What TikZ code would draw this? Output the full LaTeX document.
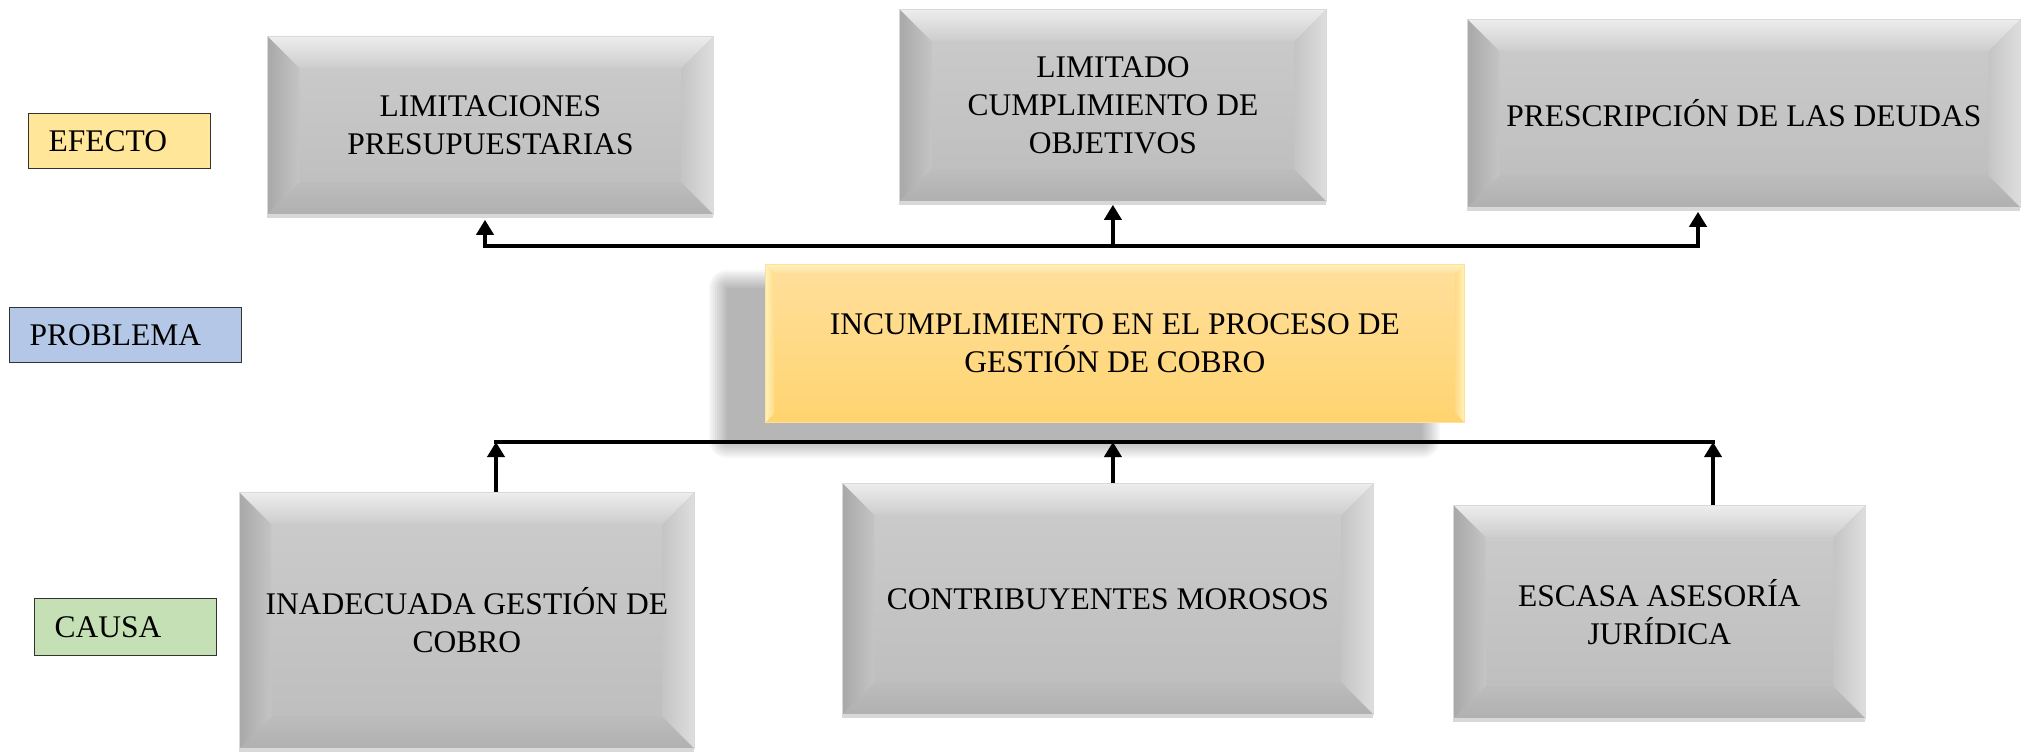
\documentclass[tikz,border=0pt]{standalone}
\usepackage{fontspec}
\setmainfont{Liberation Serif}
\usetikzlibrary{positioning,arrows.meta,shadows}

\definecolor{efectofill}{HTML}{FFE699}
\definecolor{problemafill}{HTML}{B4C7E7}
\definecolor{causafill}{HTML}{C5E0B4}
\definecolor{probtop}{HTML}{FFDF9C}
\definecolor{probmid}{HTML}{FFDA86}
\definecolor{probbot}{HTML}{FFD470}
\definecolor{probedge}{HTML}{FFF3BC}

\tikzset{
    txt/.style={font=\fontsize{31.5}{38}\selectfont, align=center, text=black},
    % bevel: width, left edge, right edge, top edge, bottom edge, face top, face bottom, face middle
    bevel/.style n args={8}{path picture={
        \coordinate (bnw) at (path picture bounding box.north west);
        \coordinate (bne) at (path picture bounding box.north east);
        \coordinate (bsw) at (path picture bounding box.south west);
        \coordinate (bse) at (path picture bounding box.south east);
        \path[top color=#4, bottom color=#6] (bnw) -- (bne) -- ([shift={(-#1,-#1)}]bne) -- ([shift={(#1,-#1)}]bnw) -- cycle;
        \path[top color=#7, bottom color=#5] (bsw) -- (bse) -- ([shift={(-#1,#1)}]bse) -- ([shift={(#1,#1)}]bsw) -- cycle;
        \path[left color=#2, right color=#8] (bnw) -- ([shift={(#1,-#1)}]bnw) -- ([shift={(#1,#1)}]bsw) -- (bsw) -- cycle;
        \path[left color=#8, right color=#3] (bne) -- ([shift={(-#1,-#1)}]bne) -- ([shift={(-#1,#1)}]bse) -- (bse) -- cycle;
    }},
    graybox/.style={txt, anchor=north west, inner sep=0pt, draw=black!15, line width=0.8pt,
        top color=black!20, bottom color=black!26,
        drop shadow={shadow xshift=0pt, shadow yshift=-4pt, opacity=0.3},
        bevel={32pt}{black!34}{black!13}{black!7}{black!31}{black!20}{black!26}{black!23}},
    probbox/.style={txt, anchor=north west, inner sep=0pt, draw=probtop, line width=0.8pt,
        top color=probtop, bottom color=probbot,
        bevel={9pt}{probedge}{probedge}{probedge}{probbot}{probtop}{probbot}{probmid}},
    tagbox/.style={txt, anchor=north west, align=left, draw=black!80, line width=1.2pt,
        inner xsep=20pt, inner ysep=0pt},
    bus/.style={line width=4pt, line cap=rect},
    conn/.style={line width=4pt, -{Triangle[width=17pt,length=15pt]}}
}

\begin{document}
\begin{tikzpicture}[x=1pt,y=-1pt]
    \useasboundingbox[fill=white] (0,0) rectangle (2029,755);

    % row labels
    \node[tagbox, fill=efectofill, text width=142pt, minimum height=55pt] (efecto) at (28,113) {EFECTO};
    \node[tagbox, fill=problemafill, text width=192pt, minimum height=55pt] (problema) at (9,307) {PROBLEMA};
    \node[tagbox, fill=causafill, text width=142pt, minimum height=57pt] (causa) at (34,598) {CAUSA};

    % effects
    \node[graybox, minimum width=446pt, minimum height=178pt] (limit) at (267,36) {LIMITACIONES\\PRESUPUESTARIAS};
    \node[graybox, minimum width=427pt, minimum height=192pt] (objet) at (899,9) {LIMITADO\\CUMPLIMIENTO DE\\OBJETIVOS};
    \node[graybox, minimum width=553pt, minimum height=188pt] (prescr) at (1467,19) {PRESCRIPCIÓN DE LAS DEUDAS};

    % soft shadow of the problem box
    \foreach \r in {0,2,...,18}
        \fill[black, opacity=0.032, rounded corners=\r pt] (727-\r,288-\r) rectangle (1422+\r,440+\r);

    % problem
    \node[probbox, minimum width=699pt, minimum height=158pt] (problem) at (765,264) {INCUMPLIMIENTO EN EL PROCESO DE\\GESTIÓN DE COBRO};

    % causes
    \node[graybox, minimum width=455pt, minimum height=256pt] (inadec) at (239,492) {INADECUADA GESTIÓN DE\\COBRO};
    \node[graybox, minimum width=531pt, minimum height=231pt] (morosos) at (842,483) {CONTRIBUYENTES MOROSOS};
    \node[graybox, minimum width=412pt, minimum height=213pt] (asesoria) at (1453,505) {ESCASA ASESORÍA\\JURÍDICA};

    % effect connectors
    \coordinate (effL) at (485,246);
    \coordinate (effR) at (1698,246);
    \draw[bus] (effL) -- (effR);
    \draw[conn, shorten >=5pt] (effL) -- (effL |- limit.south);
    \draw[conn, shorten >=3pt] (objet.south |- effL) -- (objet.south);
    \draw[conn, shorten >=4pt] (effR) -- (effR |- prescr.south);

    % cause connectors
    \coordinate (cauL) at (496,442);
    \coordinate (cauR) at (1713,442);
    \draw[bus] (cauL) -- (cauR);
    \draw[conn] (cauL |- inadec.north) -- (cauL);
    \draw[conn] ([xshift=5pt]morosos.north) -- ([xshift=5pt]morosos.north |- cauL);
    \draw[conn] (cauR |- asesoria.north) -- (cauR);
\end{tikzpicture}
\end{document}
